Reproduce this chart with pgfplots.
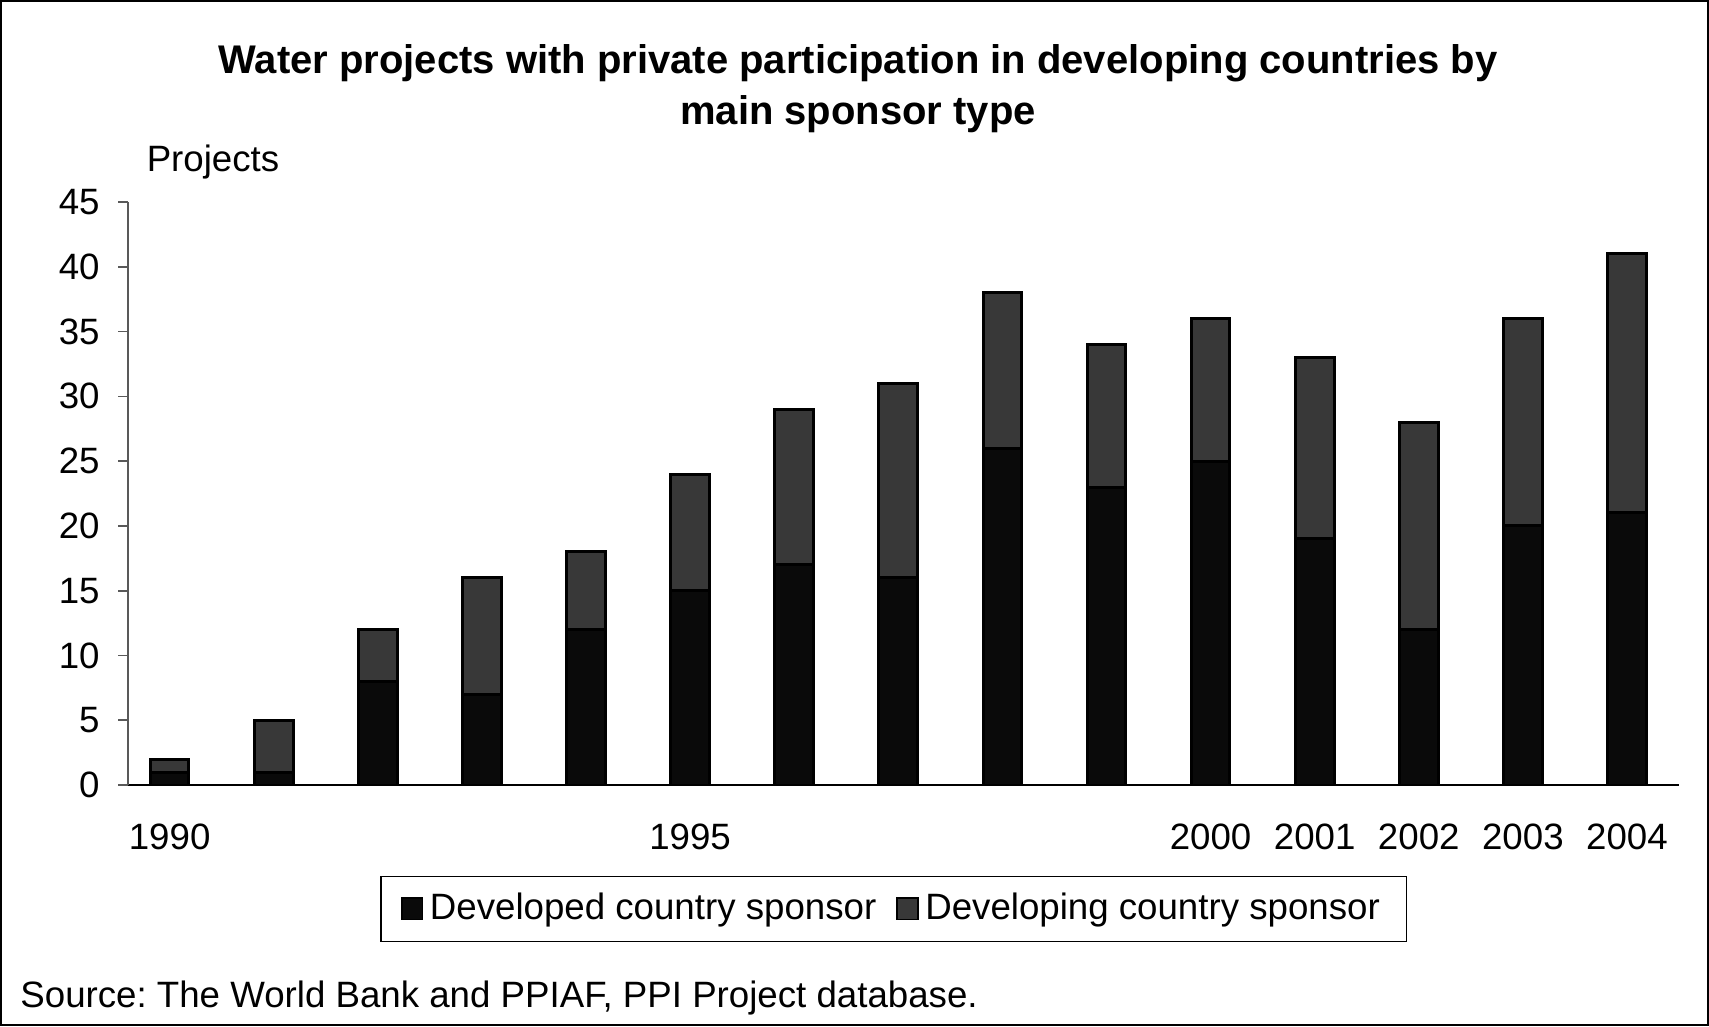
\documentclass[border=0pt]{standalone}
\usepackage{pgfplots}
\pgfplotsset{compat=1.18}
\usepackage{fontspec}
\setmainfont{Liberation Sans}
\definecolor{devd}{HTML}{0A0A0A}
\definecolor{devg}{HTML}{383838}
\frenchspacing
\begin{document}
\begin{tikzpicture}
\useasboundingbox (-38.4pt,-72.3pt) rectangle (474.3pt,235.5pt);
\draw[black, line width=0.6pt] (-38.1pt,-72.0pt) rectangle (474.0pt,235.2pt);
\begin{axis}[
  name=ax, at={(0pt,0pt)}, anchor=south west,
  scale only axis, width=465.3pt, height=174.9pt,
  xmin=1989.6, xmax=2004.5, ymin=0, ymax=45,
  ytick={0,5,...,45},
  xtick={1990,1995,2000,2001,2002,2003,2004},
  axis x line=bottom, axis y line=left,
  x axis line style={-, black, line width=0.5pt},
  y axis line style={-, gray!70!black, line width=0.5pt},
  x tick style={draw=none},
  y tick style={gray!70!black, line width=0.5pt},
  major tick length=3pt, tick align=outside,
  ybar stacked, bar width=11.6pt,
  /pgf/number format/assume math mode=true,
  x tick label style={/pgf/number format/1000 sep={}, yshift=-5pt},
  y tick label style={xshift=-2pt},
  tick label style={font=\fontsize{11}{13}\selectfont},
  legend style={at={(0.4937,-0.2126)}, anchor=center, draw=black, line width=0.5pt,
    legend columns=2, font=\fontsize{11}{13}\selectfont,
    inner xsep=6pt, inner ysep=3pt,
    /tikz/every even column/.append style={column sep=4pt}},
  legend image code/.code={\draw[#1, draw=black, line width=0.5pt] (0pt,-3.2pt) rectangle (6.2pt,3.2pt);},
]
\addplot[fill=devd, draw=black, line width=0.9pt] coordinates {
(1990,1) (1991,1) (1992,8) (1993,7) (1994,12) (1995,15) (1996,17) (1997,16)
(1998,26) (1999,23) (2000,25) (2001,19) (2002,12) (2003,20) (2004,21)};
\addlegendentry{Developed country sponsor}
\addplot[fill=devg, draw=black, line width=0.9pt] coordinates {
(1990,1) (1991,4) (1992,4) (1993,9) (1994,6) (1995,9) (1996,12) (1997,15)
(1998,12) (1999,11) (2000,11) (2001,14) (2002,16) (2003,16) (2004,20)};
\addlegendentry{Developing country sponsor}
\end{axis}
\node[font=\bfseries\fontsize{12}{14}\selectfont] at (219pt,216.5pt) {Water projects with private participation in developing countries by};
\node[font=\bfseries\fontsize{12}{14}\selectfont] at (219pt,201.2pt) {main sponsor type};
\node[font=\fontsize{11}{13}\selectfont] at (25.5pt,187pt) {Projects};
\node[font=\fontsize{11}{13}\selectfont, anchor=west] at (-35.8pt,-63.8pt) {Source: The World Bank and PPIAF, PPI Project database.};
\end{tikzpicture}
\end{document}
